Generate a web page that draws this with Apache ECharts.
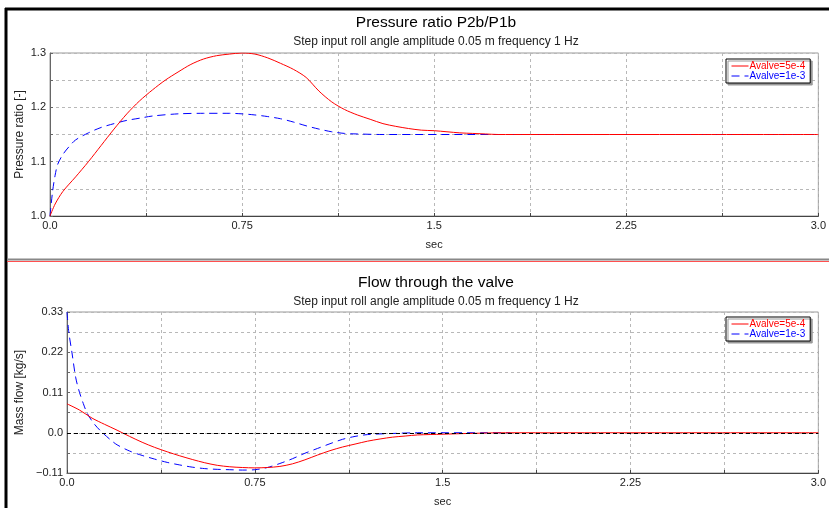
<!DOCTYPE html>
<html>
<head>
<meta charset="utf-8">
<script src="https://cdn.jsdelivr.net/npm/echarts@6/dist/echarts.min.js"></script>
<style>
html,body{margin:0;padding:0;background:#fff;}
#chart{width:829px;height:508px;}
</style>
</head>
<body>
<div id="chart"></div>
<script>
// ---------- data ----------
var seriesNames = ['Avalve=5e-4', 'Avalve=1e-3'];

// Pressure ratio P2b/P1b
var ratioRedT = [0,0.02,0.05,0.1,0.15,0.2,0.25,0.3,0.35,0.4,0.45,0.5,0.55,0.6,0.65,0.7,0.75,0.8,0.85,0.9,0.95,1.0,1.05,1.1,1.15,1.2,1.25,1.3,1.35,1.4,1.45,1.5,1.55,1.6,1.65,1.7,1.75,2.0,2.5,3.0];
var ratioRedV = [1.0,1.022,1.045,1.072,1.1,1.13,1.16,1.188,1.212,1.232,1.25,1.265,1.279,1.289,1.295,1.298,1.3,1.298,1.291,1.281,1.27,1.255,1.23,1.21,1.196,1.186,1.178,1.17,1.165,1.161,1.158,1.157,1.155,1.153,1.152,1.151,1.15,1.15,1.15,1.15];
var ratioBlueT = [0,0.01,0.02,0.03,0.05,0.075,0.1,0.15,0.2,0.25,0.3,0.35,0.4,0.5,0.6,0.7,0.75,0.8,0.85,0.9,0.95,1.0,1.05,1.1,1.15,1.2,1.3,1.75,2.5,3.0];
var ratioBlueV = [1.0,1.045,1.075,1.095,1.113,1.128,1.14,1.153,1.163,1.17,1.176,1.18,1.184,1.188,1.189,1.189,1.188,1.186,1.183,1.179,1.173,1.166,1.16,1.155,1.152,1.151,1.15,1.15,1.15,1.15];

// Flow through the valve
var flowRedT = [0,0.05,0.1,0.15,0.2,0.25,0.3,0.35,0.4,0.45,0.5,0.55,0.6,0.65,0.7,0.75,0.8,0.85,0.9,0.95,1.0,1.05,1.1,1.15,1.2,1.25,1.3,1.35,1.4,1.5,1.6,1.75,2.25,3.0];
var flowRedV = [0.079,0.062,0.04,0.023,0.007,-0.01,-0.026,-0.04,-0.052,-0.063,-0.073,-0.082,-0.089,-0.093,-0.095,-0.096,-0.095,-0.092,-0.085,-0.074,-0.061,-0.049,-0.039,-0.031,-0.023,-0.017,-0.012,-0.009,-0.006,-0.004,-0.002,0,0,0];
var flowBlueT = [0,0.007,0.02,0.035,0.05,0.065,0.08,0.1,0.12,0.145,0.175,0.2,0.25,0.3,0.35,0.4,0.45,0.5,0.55,0.6,0.65,0.7,0.75,0.8,0.85,0.9,0.95,1.0,1.05,1.1,1.15,1.2,1.3,1.4,1.77];
var flowBlueV = [0.33,0.276,0.218,0.15,0.11,0.08,0.054,0.032,0.015,-0.002,-0.02,-0.033,-0.05,-0.062,-0.072,-0.081,-0.088,-0.094,-0.098,-0.1,-0.101,-0.102,-0.101,-0.095,-0.084,-0.071,-0.056,-0.043,-0.03,-0.018,-0.01,-0.005,-0.002,0,0];

var xTickLabels = ['0.0','0.75','1.5','2.25','3.0'];
var ratioTickLabels = ['1.0','1.1','1.2','1.3'];
var flowTickLabels = ['\u22120.11','0.0','0.11','0.22','0.33'];

function pairs(t, v){ return t.map(function(x,i){ return [x, v[i]]; }); }

var FONT = 'Liberation Sans';
var RED = '#ff0000', BLUE = '#0000ff';

function xAxisFor(gridIndex){
  return {
    type:'value', gridIndex:gridIndex, min:0, max:3, interval:0.375,
    name:'sec', nameLocation:'middle', nameGap:23, nameMoveOverlap:false,
    nameTextStyle:{fontFamily:FONT, fontSize:11, color:'#222'},
    axisLine:{show:true, onZero:false, lineStyle:{color:'#444', width:1}},
    axisTick:{show:true, length:3, inside:true, lineStyle:{color:'#444'}},
    axisLabel:{fontFamily:FONT, fontSize:11, color:'#222', margin:4,
      formatter:function(v){ var k=Math.round(v/0.75); return Math.abs(v-k*0.75)<1e-6 ? xTickLabels[k] : ''; }},
    splitLine:{show:true, lineStyle:{color:'#b8b8b8', type:[3,3], width:1}}
  };
}

function legendFor(top){
  return {orient:'vertical', left:726, top:top, itemWidth:17, itemHeight:10, itemGap:0,
    padding:[2,5,2,5], borderColor:'#000', borderWidth:1, backgroundColor:'#fff',
    shadowColor:'#999', shadowOffsetX:2, shadowOffsetY:2, shadowBlur:0,
    itemStyle:{color:'rgba(0,0,0,0)', borderColor:'rgba(0,0,0,0)', borderWidth:0},
    lineStyle:{width:1},
    textStyle:{fontFamily:FONT, fontSize:10, padding:[0,0,0,-4]},
    data:[{name:seriesNames[0], textStyle:{color:RED}},{name:seriesNames[1], textStyle:{color:BLUE}}]};
}

function titleFor(text, top){
  return {text:text, subtext:'Step input roll angle amplitude 0.05 m frequency 1 Hz',
    left:436, top:top, textAlign:'center', padding:0, itemGap:5,
    textStyle:{fontFamily:FONT, fontSize:15.5, fontWeight:'normal', color:'#000'},
    subtextStyle:{fontFamily:FONT, fontSize:12, color:'#222'}};
}

var option = {
  animation:false,
  backgroundColor:'#ffffff',
  title:[ titleFor('Pressure ratio P2b/P1b', 15), titleFor('Flow through the valve', 275) ],
  legend:[ legendFor(59), legendFor(317) ],
  grid:[
    {left:50, top:53, width:772, height:163, show:true, borderColor:'#999', borderWidth:1, backgroundColor:'transparent'},
    {left:67, top:312, width:755, height:163, show:true, borderColor:'#999', borderWidth:1, backgroundColor:'transparent'}
  ],
  xAxis:[xAxisFor(0), xAxisFor(1)],
  yAxis:[
    {type:'value', gridIndex:0, min:1.0, max:1.3, interval:0.05,
     name:'Pressure ratio [-]', nameLocation:'middle', nameGap:24, nameMoveOverlap:false,
     nameTextStyle:{fontFamily:FONT, fontSize:12, color:'#222'},
     axisLine:{show:true, lineStyle:{color:'#666'}},
     axisTick:{show:true, length:3, inside:true, lineStyle:{color:'#666'}},
     axisLabel:{fontFamily:FONT, fontSize:11, color:'#222', margin:4,
       formatter:function(v){ var k=Math.round((v-1.0)/0.05); return k%2===0 ? ratioTickLabels[k/2] : ''; }},
     splitLine:{show:true, lineStyle:{color:'#b8b8b8', type:[3,3], width:1}}},
    {type:'value', gridIndex:1, min:-0.11, max:0.33, interval:0.055,
     name:'Mass flow [kg/s]', nameLocation:'middle', nameGap:41, nameMoveOverlap:false,
     nameTextStyle:{fontFamily:FONT, fontSize:12, color:'#222'},
     axisLine:{show:true, onZero:false, lineStyle:{color:'#666'}},
     axisTick:{show:true, length:3, inside:true, lineStyle:{color:'#666'}},
     axisLabel:{fontFamily:FONT, fontSize:11, color:'#222', margin:4,
       formatter:function(v){ var k=Math.round((v+0.11)/0.055); return k%2===0 ? flowTickLabels[k/2] : ''; }},
     splitLine:{show:true, lineStyle:{color:'#b8b8b8', type:[3,3], width:1}}}
  ],
  series:[
    {name:seriesNames[1], type:'line', xAxisIndex:0, yAxisIndex:0, data:pairs(ratioBlueT, ratioBlueV),
     showSymbol:false, symbol:'none', smooth:0.3, z:2, lineStyle:{color:BLUE, width:1, type:[8,5]}, itemStyle:{color:BLUE}},
    {name:seriesNames[0], type:'line', xAxisIndex:0, yAxisIndex:0, data:pairs(ratioRedT, ratioRedV),
     showSymbol:false, symbol:'none', smooth:0.3, z:3, lineStyle:{color:RED, width:1}, itemStyle:{color:RED}},
    {name:seriesNames[1], type:'line', xAxisIndex:1, yAxisIndex:1, data:pairs(flowBlueT, flowBlueV),
     showSymbol:false, symbol:'none', smooth:0.3, z:2, lineStyle:{color:BLUE, width:1, type:[8,5]}, itemStyle:{color:BLUE},
     markLine:{silent:true, symbol:['none','none'], label:{show:false},
       lineStyle:{color:'#000', type:[4,3], width:1}, data:[{yAxis:0}]}},
    {name:seriesNames[0], type:'line', xAxisIndex:1, yAxisIndex:1, data:pairs(flowRedT, flowRedV),
     showSymbol:false, symbol:'none', smooth:0.3, z:3, lineStyle:{color:RED, width:1}, itemStyle:{color:RED}}
  ],
  graphic:[
    {type:'line', shape:{x1:5, y1:9, x2:829, y2:9}, style:{stroke:'#000', lineWidth:3}, silent:true},
    {type:'line', shape:{x1:6, y1:8, x2:6, y2:508}, style:{stroke:'#000', lineWidth:3}, silent:true},
    {type:'line', shape:{x1:7, y1:259.5, x2:829, y2:259.5}, style:{stroke:'#888', lineWidth:2}, silent:true},
    {type:'line', shape:{x1:7, y1:261.5, x2:829, y2:261.5}, style:{stroke:'#ff5050', lineWidth:1}, silent:true}
  ]
};

var chart = echarts.init(document.getElementById('chart'), null, {renderer:'canvas'});
chart.setOption(option);
</script>
</body>
</html>
